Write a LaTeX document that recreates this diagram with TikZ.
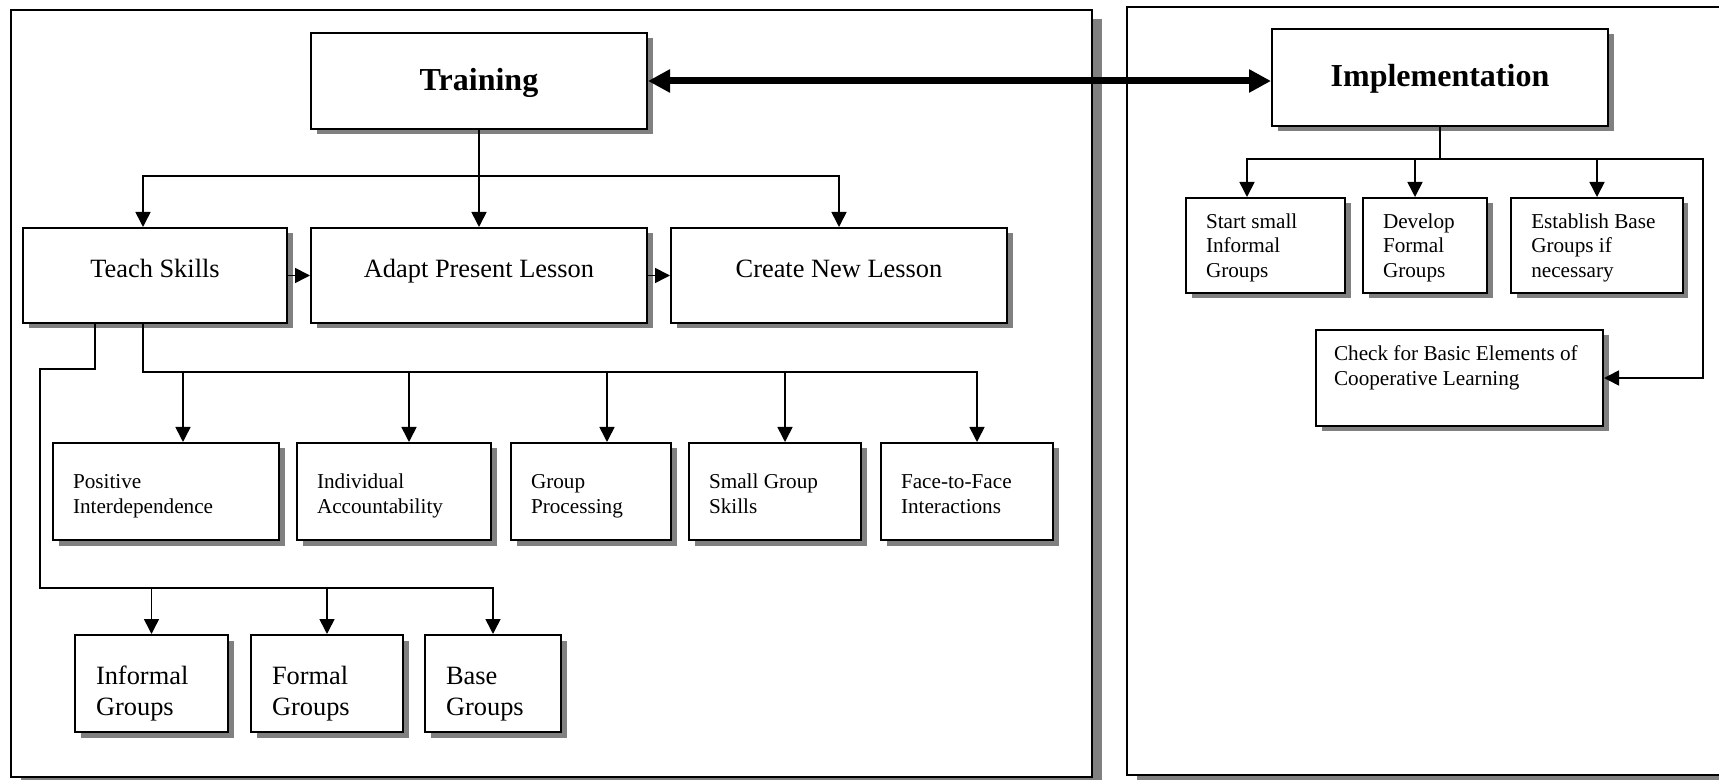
\documentclass[tikz,border=0pt]{standalone}
\usepackage{fontspec}
\setmainfont{Liberation Serif}
\usetikzlibrary{arrows.meta,shadows}

\tikzset{
  box/.style={draw=black, line width=1pt, fill=white, inner sep=0pt,
    execute at begin node={\spaceskip=0pt\xspaceskip=0pt},
    drop shadow={shadow xshift=2.75pt, shadow yshift=-2.75pt, fill=black!50, opacity=1}},
  headbox/.style={box, font=\fontsize{16}{19}\selectfont\bfseries, minimum width=168pt, minimum height=48pt,
    text height=9.25pt, text depth=0pt},
  lessonbox/.style={box, font=\fontsize{13.2}{16}\selectfont, minimum width=#1, minimum height=47.5pt,
    text height=2.5pt, text depth=0pt},
  elembox/.style={box, font=\fontsize{10.6}{12.5}\selectfont, align=left, inner xsep=10pt, text width=#1,
    minimum height=48.5pt, text height=8pt, text depth=11pt},
  grpbox/.style={box, font=\fontsize{13.2}{15.5}\selectfont, align=left, inner xsep=10.5pt, text width=#1,
    minimum height=48.5pt, text height=10pt, text depth=9.5pt},
  implbox/.style={box, font=\fontsize{10.6}{12.25}\selectfont, align=left, inner xsep=10pt, text width=#1,
    minimum height=47.5pt, text height=8pt, text depth=25pt},
  conn/.style={line width=0.8pt},
  arr/.style={conn, -{Triangle[length=7.5pt,width=7.5pt]}},
  bigarr/.style={line width=3.5pt, {Triangle[length=11pt,width=11pt]}-{Triangle[length=11pt,width=11pt]}},
  frame/.style={draw=black, line width=1.4pt, fill=white,
    drop shadow={shadow xshift=4.75pt, shadow yshift=-4.75pt, fill=black!50, opacity=1}}
}

\begin{document}
\begin{tikzpicture}[x=0.5pt, y=-0.5pt]
\useasboundingbox (0,0) rectangle (1719,780);
% the two panels
\path[frame] (11,10) rectangle (1092,777);
\path[frame] (1127,7) rectangle (1740,775);

% training panel
\node[headbox] (train) at (479,81) {Training};
\node[lessonbox=132pt] (teach) at (155,275.5) {Teach Skills};
\node[lessonbox=168pt] (adapt) at (479,275.5) {Adapt Present Lesson};
\node[lessonbox=168pt] (create) at (839,275.5) {Create New Lesson};

\node[elembox=93pt] (pos) at (166,491.5) {Positive\\Interdependence};
\node[elembox=77pt] (ind) at (394,491.5) {Individual\\Accountability};
\node[elembox=60pt] (proc) at (591,491.5) {Group\\Processing};
\node[elembox=66pt] (small) at (775,491.5) {Small Group\\Skills};
\node[elembox=66pt] (face) at (967,491.5) {Face-to-Face\\Interactions};

\node[grpbox=55.5pt] (inf) at (151.5,683.5) {Informal\\Groups};
\node[grpbox=55pt] (frm) at (327,683.5) {Formal\\Groups};
\node[grpbox=47pt] (base) at (493,683.5) {Base\\Groups};

% implementation panel
\node[headbox, minimum height=48.5pt] (impl) at (1440,77.5) {Implementation};
\node[implbox=59.5pt] (start) at (1265.5,245.5) {Start small\\Informal\\Groups};
\node[implbox=42pt] (dev) at (1425,245.5) {Develop\\Formal\\Groups};
\node[implbox=65.75pt] (est) at (1597,245.5) {Establish Base\\Groups if\\necessary};
\node[implbox=125.5pt, inner xsep=9pt, minimum height=48pt] (check) at (1459.5,378)
  {Check for Basic Elements of\\Cooperative Learning};

\draw[bigarr] (train.east) -- (train.east -| impl.west);

% training connectors
\coordinate (tbus) at (479,176);
\draw[conn] (train.south) -- (tbus);
\draw[arr] (tbus) -- (adapt.north);
\draw[arr] (tbus) -| ([xshift=-6pt]teach.north);
\draw[arr] (tbus) -| (create.north);
\draw[arr] (teach) -- (adapt);
\draw[arr] (adapt) -- (create);

\coordinate (ebus) at (143,372);
\draw[arr] ([xshift=-6pt]teach.south) -- (ebus) -| ([xshift=5pt]face.north);
\foreach \n/\s in {pos/8.5pt,ind/7.5pt,proc/8pt,small/5pt}
  \draw[arr] ([xshift=\s]\n.north |- ebus) -- ([xshift=\s]\n.north);

\coordinate (gtop) at (40,369);
\coordinate (gbus) at (40,588);
\draw[arr] ([xshift=-30pt]teach.south) |- (gtop) -- (gbus) -| (base.north);
\foreach \n in {inf,frm}
  \draw[arr] (\n.north |- gbus) -- (\n.north);

% implementation connectors
\coordinate (ibus) at (1440,159);
\coordinate (ibusR) at (1703,159);
\draw[conn] (impl.south) -- (ibus);
\draw[arr] (ibus) -| ([xshift=-9.25pt]start.north);
\draw[arr] ([xshift=-5pt]dev.north |- ibus) -- ([xshift=-5pt]dev.north);
\draw[arr] (est.north |- ibus) -- (est.north);
\draw[arr] (ibus) -- (ibusR) |- (check.east);
\end{tikzpicture}
\end{document}
